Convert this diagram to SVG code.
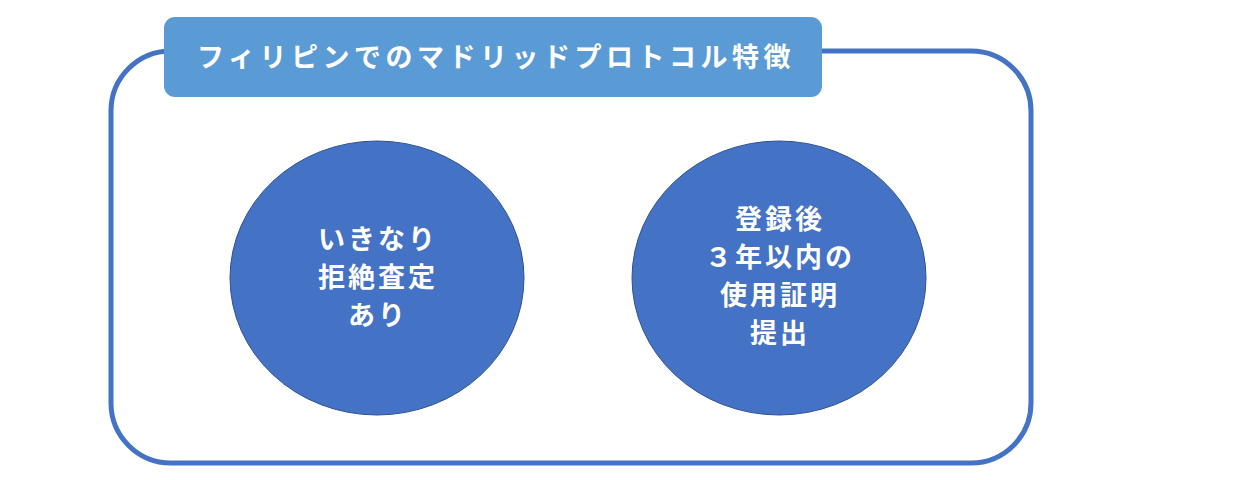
<svg xmlns="http://www.w3.org/2000/svg" width="1251" height="480" viewBox="0 0 1251 480">
<style>
.c{fill:#4472C4;stroke:#2F528F;stroke-width:1}
.t{font-family:"Noto Sans CJK JP",sans-serif;font-weight:bold;fill:#fff;text-anchor:middle;font-size:27px;letter-spacing:3px}
</style>
<rect width="1251" height="480" fill="#fff"/>
<g id="frame"><rect x="111" y="51" width="920" height="412" rx="60" fill="none" stroke="#4472C4" stroke-width="5"/></g>
<g id="title"><rect x="164" y="17" width="658" height="80" rx="11" fill="#5B9BD5"/>
<text class="t" x="496" y="67" style="font-size:27px;letter-spacing:4.5px">フィリピンでのマドリッドプロトコル特徴</text></g>
<g id="n1"><ellipse class="c" cx="377" cy="278" rx="147" ry="137"/>
<text class="t" x="378" y="249">いきなり</text><text class="t" x="378" y="287">拒絶査定</text><text class="t" x="378" y="325">あり</text></g>
<g id="n2"><ellipse class="c" cx="779" cy="278" rx="147" ry="137"/>
<text class="t" x="780" y="229">登録後</text><text class="t" x="780" y="267">３年以内の</text><text class="t" x="780" y="305">使用証明</text><text class="t" x="780" y="343">提出</text></g>
<g id="connectors"/>
</svg>
